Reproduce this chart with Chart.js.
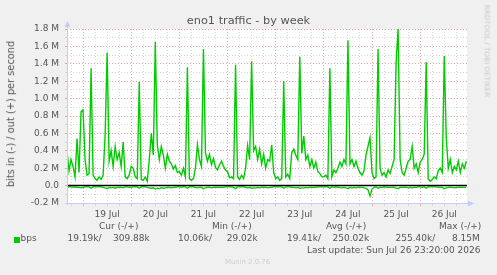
<!DOCTYPE html>
<html>
<head>
<meta charset="utf-8">
<script src="https://cdn.jsdelivr.net/npm/chart.js@4.4.1/dist/chart.umd.min.js"></script>
<style>
  html, body { margin: 0; padding: 0; background: #f0f0f0; }
  #wrap { position: relative; width: 497px; height: 275px; overflow: hidden; font-family: "DejaVu Sans", sans-serif; color: #555; }
  #wrap canvas { position: absolute; left: 0; top: 0; }
  .t { position: absolute; white-space: nowrap; font-size: 9px; line-height: 9px; }
  .title { left: 0; width: 497px; top: 15.4px; text-align: center; font-size: 11.3px; line-height: 11.3px; color: #555; }
  .ylab { left: 11px; top: 114px; font-size: 9.8px; line-height: 9.8px; transform: translate(-50%, -50%) rotate(-90deg); }
  .mark { left: 486.5px; top: 51px; font-size: 7.2px; line-height: 7.2px; color: #c8c8c8; transform: translate(-50%, -50%) rotate(90deg); }
  .munin { font-size: 6.9px; line-height: 6.9px; color: #cfcfcf; }
  .swatch { position: absolute; left: 14px; top: 237px; width: 6px; height: 6px; background: #00cc00; }
</style>
</head>
<body>
<div id="wrap">
  <canvas id="traffic" width="497" height="275"></canvas>
  <div class="t title">eno1 traffic - by week</div>
  <div class="t ylab">bits in (-) / out (+) per second</div>
  <div class="t mark">RRDTOOL / TOBI OETIKER</div>

  <div class="t" style="left:99px; top:222.4px">Cur (-/+)</div>
  <div class="t" style="left:212px; top:222.4px">Min (-/+)</div>
  <div class="t" style="left:326px; top:222.4px">Avg (-/+)</div>
  <div class="t" style="left:439px; top:222.4px">Max (-/+)</div>

  <div class="swatch"></div>
  <div class="t" style="left:20.5px; top:234.4px">bps</div>
  <div class="t" style="left:67.5px; top:234.4px">19.19k/</div>
  <div class="t" style="left:113px; top:234.4px">309.88k</div>
  <div class="t" style="left:178px; top:234.4px">10.06k/</div>
  <div class="t" style="left:226.8px; top:234.4px">29.02k</div>
  <div class="t" style="left:287px; top:234.4px">19.41k/</div>
  <div class="t" style="left:332.5px; top:234.4px">250.02k</div>
  <div class="t" style="left:395.5px; top:234.4px">255.40k/</div>
  <div class="t" style="left:452px; top:234.4px">8.15M</div>

  <div class="t" style="left:307px; top:246.3px">Last update: Sun Jul 26 23:20:00 2026</div>
  <div class="t munin" style="left:225px; top:258.5px">Munin 2.0.76</div>
</div>

<script>
// hours are counted from Jul 19 00:00, one sample per hour
const startHour = -8;      // Jul 18 16:00
const endHour = 191.33;    // last update Jul 26 23:20

const dayLabels = ['19 Jul', '20 Jul', '21 Jul', '22 Jul', '23 Jul', '24 Jul', '25 Jul', '26 Jul'];

const yTicks = [-0.2, -0.1, 0.0, 0.1, 0.2, 0.3, 0.4, 0.5, 0.6, 0.7, 0.8, 0.9,
                1.0, 1.1, 1.2, 1.3, 1.4, 1.5, 1.6, 1.7, 1.8];

// out (+), Mbit/s
const outValues = [
  0.40, 0.17, 0.30, 0.22, 0.10, 0.54, 0.15, 0.85,
  // 19 Jul
  0.87, 0.30, 0.12, 0.14, 1.35, 0.12, 0.08, 0.06, 0.10, 0.07, 0.12, 0.58,
  1.53, 0.28, 0.40, 0.22, 0.45, 0.30, 0.38, 0.22, 0.50, 0.10, 0.08, 0.12,
  // 20 Jul
  0.22, 0.20, 0.10, 0.08, 1.19, 0.07, 0.06, 0.10, 0.05, 0.30, 0.60, 0.35,
  1.65, 0.47, 0.30, 0.45, 0.35, 0.20, 0.36, 0.28, 0.25, 0.19, 0.23, 0.15,
  // 21 Jul
  0.16, 0.12, 0.20, 0.10, 1.36, 0.08, 0.06, 0.08, 0.20, 0.47, 0.30, 0.22,
  1.57, 0.38, 0.28, 0.36, 0.24, 0.31, 0.21, 0.18, 0.24, 0.28, 0.22, 0.18,
  // 22 Jul
  0.16, 0.09, 0.10, 0.08, 1.39, 0.10, 0.07, 0.12, 0.08, 0.20, 0.46, 0.30,
  1.43, 0.40, 0.45, 0.30, 0.42, 0.25, 0.36, 0.20, 0.30, 0.28, 0.47, 0.15,
  // 23 Jul
  0.08, 0.10, 0.06, 0.08, 1.20, 0.10, 0.13, 0.08, 0.38, 0.42, 0.35, 0.30,
  1.48, 0.37, 0.57, 0.30, 0.35, 0.22, 0.30, 0.20, 0.27, 0.16, 0.14, 0.10,
  // 24 Jul
  0.10, 0.12, 0.08, 1.35, 0.10, 0.18, 0.15, 0.20, 0.27, 0.22, 0.30, 0.25,
  1.67, 0.25, 0.30, 0.22, 0.28, 0.20, 0.15, 0.12, 0.17, 0.35, 0.45, 0.55,
  // 25 Jul
  0.15, 0.08, 0.10, 1.57, 0.20, 0.12, 0.15, 0.10, 0.18, 0.14, 0.22, 0.30,
  1.42, 1.80, 0.30, 0.15, 0.12, 0.20, 0.28, 0.30, 0.45, 0.20, 0.25, 0.15,
  // 26 Jul
  0.27, 0.30, 0.36, 1.42, 0.08, 0.05, 0.07, 0.10, 0.08, 0.17, 0.20, 0.15,
  1.49, 0.55, 0.20, 0.30, 0.15, 0.22, 0.18, 0.28, 0.15, 0.25, 0.20, 0.28
];

// in (-), Mbit/s, drawn below zero
const inValues = [
  -0.020, -0.015, -0.015, -0.020, -0.015, -0.020, -0.020, -0.025,
  // 19 Jul
  -0.020, -0.015, -0.015, -0.015, -0.030, -0.015, -0.015, -0.015, -0.015, -0.015, -0.020, -0.025,
  -0.035, -0.020, -0.025, -0.020, -0.030, -0.020, -0.020, -0.020, -0.025, -0.015, -0.015, -0.020,
  // 20 Jul
  -0.020, -0.015, -0.015, -0.015, -0.030, -0.015, -0.015, -0.015, -0.020, -0.025, -0.030, -0.025,
  -0.040, -0.030, -0.035, -0.025, -0.030, -0.025, -0.020, -0.020, -0.025, -0.020, -0.020, -0.015,
  // 21 Jul
  -0.015, -0.020, -0.015, -0.015, -0.030, -0.015, -0.015, -0.015, -0.020, -0.025, -0.020, -0.020,
  -0.035, -0.025, -0.020, -0.020, -0.025, -0.020, -0.020, -0.020, -0.020, -0.020, -0.020, -0.015,
  // 22 Jul
  -0.015, -0.015, -0.015, -0.020, -0.035, -0.015, -0.015, -0.015, -0.015, -0.020, -0.025, -0.020,
  -0.030, -0.025, -0.025, -0.020, -0.025, -0.020, -0.020, -0.020, -0.025, -0.020, -0.020, -0.015,
  // 23 Jul
  -0.015, -0.015, -0.015, -0.015, -0.030, -0.015, -0.015, -0.015, -0.020, -0.020, -0.025, -0.020,
  -0.030, -0.025, -0.025, -0.020, -0.025, -0.020, -0.020, -0.020, -0.020, -0.015, -0.015, -0.015,
  // 24 Jul
  -0.015, -0.015, -0.015, -0.030, -0.015, -0.020, -0.015, -0.020, -0.020, -0.025, -0.020, -0.025,
  -0.035, -0.020, -0.025, -0.020, -0.025, -0.020, -0.020, -0.020, -0.025, -0.030, -0.050, -0.120,
  // 25 Jul
  -0.040, -0.020, -0.015, -0.030, -0.020, -0.020, -0.015, -0.020, -0.020, -0.020, -0.020, -0.020,
  -0.030, -0.035, -0.020, -0.020, -0.020, -0.020, -0.025, -0.020, -0.025, -0.020, -0.020, -0.015,
  // 26 Jul
  -0.015, -0.020, -0.015, -0.030, -0.015, -0.015, -0.015, -0.015, -0.015, -0.020, -0.020, -0.020,
  -0.035, -0.025, -0.020, -0.020, -0.020, -0.025, -0.020, -0.020, -0.020, -0.020, -0.020, -0.020
];

const GREEN = '#00cc00';
const MAJOR = '#e6a3a3';
const MINOR = '#d6d6d6';
const AXIS = '#c6cdf5';

const toPoints = values => values.map((v, i) => ({ x: startHour + i, y: v }));

// white plot area, black zero rule, axis lines with arrows
const munin = {
  id: 'munin',
  beforeDraw(chart) {
    const { ctx, chartArea: a } = chart;
    ctx.save();
    ctx.fillStyle = '#ffffff';
    ctx.fillRect(a.left, a.top, a.right - a.left, a.bottom - a.top);
    ctx.restore();
  },
  afterDatasetsDraw(chart) {
    const { ctx, chartArea: a, scales } = chart;
    const y0 = Math.floor(scales.y.getPixelForValue(0)) + 0.5;
    ctx.save();
    ctx.strokeStyle = '#000';
    ctx.lineWidth = 1.3;
    ctx.beginPath();
    ctx.moveTo(a.left, y0);
    ctx.lineTo(a.right, y0);
    ctx.stroke();
    ctx.restore();
  },
  afterDraw(chart) {
    const { ctx, chartArea: a } = chart;
    const x = Math.round(a.left) + 0.5;
    const y = Math.round(a.bottom) + 0.5;
    ctx.save();
    ctx.strokeStyle = AXIS;
    ctx.fillStyle = AXIS;
    ctx.lineWidth = 1;
    ctx.beginPath();
    ctx.moveTo(x, a.bottom + 2);
    ctx.lineTo(x, a.top - 3);
    ctx.moveTo(a.left - 2, y);
    ctx.lineTo(a.right + 2, y);
    ctx.stroke();
    ctx.beginPath();
    ctx.moveTo(x, a.top - 8);
    ctx.lineTo(x - 3, a.top - 2);
    ctx.lineTo(x + 3, a.top - 2);
    ctx.closePath();
    ctx.fill();
    ctx.beginPath();
    ctx.moveTo(a.right + 7, y);
    ctx.lineTo(a.right + 1, y - 3);
    ctx.lineTo(a.right + 1, y + 3);
    ctx.closePath();
    ctx.fill();
    ctx.restore();
  }
};

const tickFont = { family: 'DejaVu Sans', size: 9 };

new Chart(document.getElementById('traffic'), {
  type: 'line',
  data: {
    datasets: [
      { label: 'bps out', data: toPoints(outValues), borderColor: GREEN, borderWidth: 1.4 },
      { label: 'bps in', data: toPoints(inValues), borderColor: GREEN, borderWidth: 1.3 }
    ]
  },
  options: {
    responsive: false,
    animation: false,
    events: [],
    layout: { padding: { top: 29, right: 30, left: 0, bottom: 0 } },
    elements: { point: { radius: 0 }, line: { tension: 0 } },
    plugins: { legend: { display: false }, title: { display: false }, tooltip: { enabled: false } },
    scales: {
      x: {
        type: 'linear',
        min: startHour,
        max: endHour,
        afterBuildTicks(scale) {
          const ticks = [];
          for (let h = -6; h < endHour; h += 6) ticks.push({ value: h });
          scale.ticks = ticks;
        },
        afterFit(scale) { scale.height = 72; },
        grid: {
          color: c => (c.tick && c.tick.value % 24 === 0) ? MAJOR : MINOR,
          tickColor: c => (c.tick && c.tick.value % 24 === 0) ? MAJOR : MINOR,
          tickLength: 3,
          lineWidth: 1
        },
        border: { display: false, dash: [1, 2] },
        ticks: {
          autoSkip: false,
          maxRotation: 0,
          padding: 3,
          color: '#555',
          font: tickFont,
          callback: v => (v % 24 === 12 && v > 0) ? dayLabels[(v - 12) / 24] : ''
        }
      },
      y: {
        min: yTicks[0],
        max: yTicks[yTicks.length - 1],
        afterBuildTicks(scale) {
          scale.ticks = yTicks.map(v => ({ value: v }));
        },
        afterFit(scale) { scale.width = 67; },
        grid: {
          color: c => (c.index % 2 === 0) ? MAJOR : MINOR,
          tickColor: c => (c.index % 2 === 0) ? MAJOR : MINOR,
          tickLength: 2,
          lineWidth: 1
        },
        border: { display: false, dash: [1, 2] },
        ticks: {
          autoSkip: false,
          padding: 6,
          color: '#555',
          font: tickFont,
          callback: (v, i) => {
            if (i % 2 !== 0) return '';
            return v === 0 ? '0.0' : v.toFixed(1) + ' M';
          }
        }
      }
    }
  },
  plugins: [munin]
});
</script>
</body>
</html>
